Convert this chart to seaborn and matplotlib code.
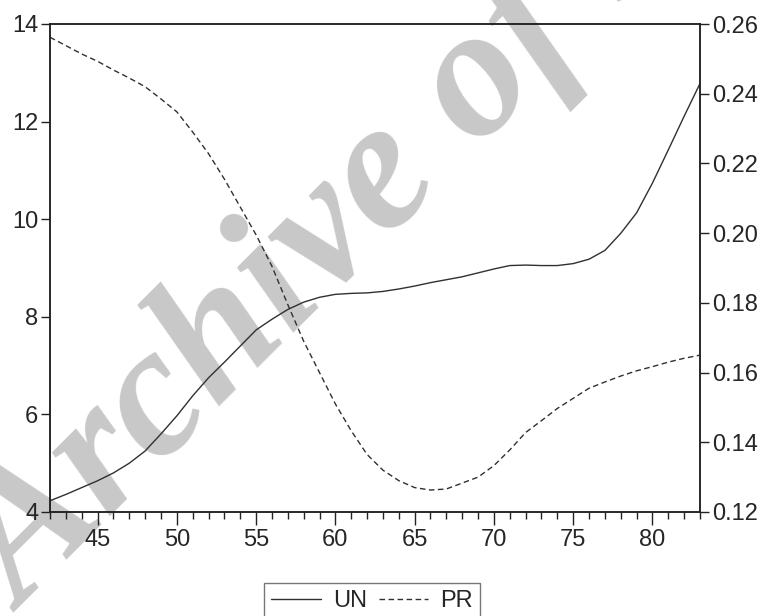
import numpy as np
import pandas as pd
import matplotlib
matplotlib.use("Agg")
import matplotlib.pyplot as plt
from matplotlib.ticker import MultipleLocator
import seaborn as sns

years = list(range(42, 84))
un = [4.23, 4.36, 4.50, 4.64, 4.80, 5.00, 5.25, 5.60, 5.97, 6.38,
      6.75, 7.07, 7.40, 7.73, 7.95, 8.15, 8.30, 8.40, 8.46, 8.48,
      8.49, 8.52, 8.57, 8.63, 8.70, 8.76, 8.82, 8.90, 8.98, 9.05,
      9.06, 9.05, 9.05, 9.09, 9.18, 9.36, 9.71, 10.13, 10.74, 11.42,
      12.11, 12.78]
pr = [0.2562, 0.2538, 0.2514, 0.2493, 0.2468, 0.2445, 0.2420, 0.2385, 0.2348, 0.2290,
      0.2228, 0.2155, 0.2075, 0.1995, 0.1905, 0.1795, 0.1690, 0.1600, 0.1510, 0.1433,
      0.1365, 0.1320, 0.1290, 0.1270, 0.1263, 0.1266, 0.1283, 0.1300, 0.1333, 0.1378,
      0.1428, 0.1462, 0.1497, 0.1526, 0.1555, 0.1573, 0.1590, 0.1605, 0.1617, 0.1630,
      0.1641, 0.1650]

df = pd.DataFrame({"year": years, "UN": un, "PR": pr})

sns.set_style("ticks")
plt.rcParams["font.family"] = ["Liberation Sans", "DejaVu Sans"]

fig = plt.figure(figsize=(7.7, 6.16), dpi=100)
ax = fig.add_axes([50 / 770, 1 - 512 / 616, 650 / 770, 488 / 616])
ax2 = ax.twinx()

# watermark sits behind the lines
fig.text(0.03, 0.005, "Archive of SID", rotation=45, rotation_mode="anchor",
         fontsize=134, family="Liberation Serif", style="italic", weight="bold",
         color="#c8c8c8", ha="left", va="baseline", zorder=-1)
ax.patch.set_visible(False)
ax2.patch.set_visible(False)

line_col = "#303030"
sns.lineplot(data=df, x="year", y="UN", ax=ax, color=line_col, lw=1.0, label="UN")
sns.lineplot(data=df, x="year", y="PR", ax=ax2, color=line_col, lw=1.0,
             linestyle=(0, (4, 2.5)), label="PR")

ax.set_xlim(42, 83)
ax.set_ylim(4, 14)
ax2.set_ylim(0.12, 0.26)
ax.set_xticks(range(45, 81, 5))
ax.xaxis.set_minor_locator(MultipleLocator(1))
ax.set_yticks(range(4, 15, 2))
ax2.set_yticks(np.arange(0.12, 0.2601, 0.02))
ax2.set_yticklabels([f"{v:.2f}" for v in np.arange(0.12, 0.2601, 0.02)])
ax.set_xlabel("")
ax.set_ylabel("")
ax2.set_ylabel("")

for a in (ax, ax2):
    for s in a.spines.values():
        s.set_color("#222222")
        s.set_linewidth(1.1)
ax.tick_params(axis="x", which="major", length=9, width=1, color="#222222",
               labelsize=17, pad=3)
ax.tick_params(axis="x", which="minor", length=5, width=1, color="#222222")
ax.tick_params(axis="y", length=6.5, width=1, color="#222222", labelsize=17, pad=2)
ax2.tick_params(axis="y", length=6.5, width=1, color="#222222", labelsize=17, pad=2)

h1, l1 = ax.get_legend_handles_labels()
h2, l2 = ax2.get_legend_handles_labels()
ax.get_legend().remove()
ax2.get_legend().remove()
leg = fig.legend(h1 + h2, l1 + l2, loc="upper center", bbox_to_anchor=(0.483, 1 - 583 / 616),
                 ncol=2, frameon=True, fancybox=False, fontsize=17, handlelength=2.1,
                 handletextpad=0.5, columnspacing=0.5, borderpad=0.3, borderaxespad=0)
leg.get_frame().set_edgecolor("#555555")
leg.get_frame().set_linewidth(1.0)

fig.savefig("out.png", dpi=100)
